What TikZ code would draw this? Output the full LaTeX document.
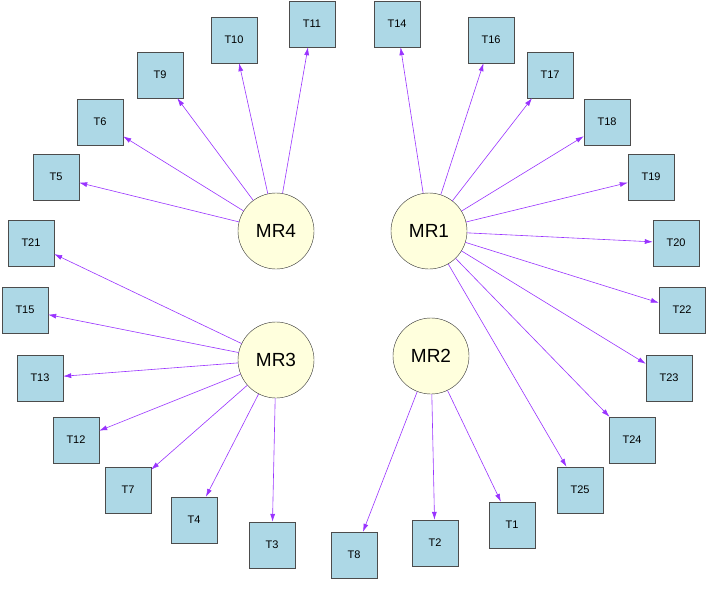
\documentclass[tikz,border=0pt]{standalone}
\usepackage{fontspec}
\setmainfont{Liberation Sans}
\usetikzlibrary{arrows.meta}
\begin{document}
\begin{tikzpicture}[x=1pt,y=-1pt,
  tbox/.style={draw=black!70,fill=cyan!10!blue!5!white,fill={rgb,255:red,173;green,216;blue,230},minimum size=46pt,inner sep=0pt,font=\fontsize{11}{13}\selectfont},
  hub/.style={circle,draw=black!80,fill={rgb,255:red,255;green,255;blue,221},minimum size=76pt,inner sep=0pt,font=\fontsize{19}{22}\selectfont},
  arr/.style={draw={rgb,255:red,153;green,51;blue,255},-{Latex[length=8pt,width=5pt]},line width=0.6pt}]
\useasboundingbox (0,0) rectangle (708,591);
\node[hub] (MR4) at (276,231) {MR4};
\node[hub] (MR1) at (429,231) {MR1};
\node[hub] (MR3) at (276,360) {MR3};
\node[hub] (MR2) at (431,356) {MR2};
\foreach \n/\x/\y in {T14/397/24,T16/491/40,T17/550/75,T18/607/122,T19/651/177,T20/676/243,T22/682/310,T23/669/378,T24/632/440,T25/580/490,T1/512/525,T2/435/543,T8/354/555,T3/272/545,T4/194/520,T7/128/490,T12/76/440,T13/40/378,T15/25/310,T21/31/243,T5/56/177,T6/100/122,T9/160/75,T10/234/40,T11/312/24}
  \node[tbox] (\n) at (\x,\y) {\n};
\foreach \t in {T14,T16,T17,T18,T19,T20,T22,T23,T24,T25} \draw[arr] (MR1) -- (\t);
\foreach \t in {T1,T2,T8} \draw[arr] (MR2) -- (\t);
\foreach \t in {T3,T4,T7,T12,T13,T15,T21} \draw[arr] (MR3) -- (\t);
\foreach \t in {T5,T6,T9,T10,T11} \draw[arr] (MR4) -- (\t);
\end{tikzpicture}
\end{document}
